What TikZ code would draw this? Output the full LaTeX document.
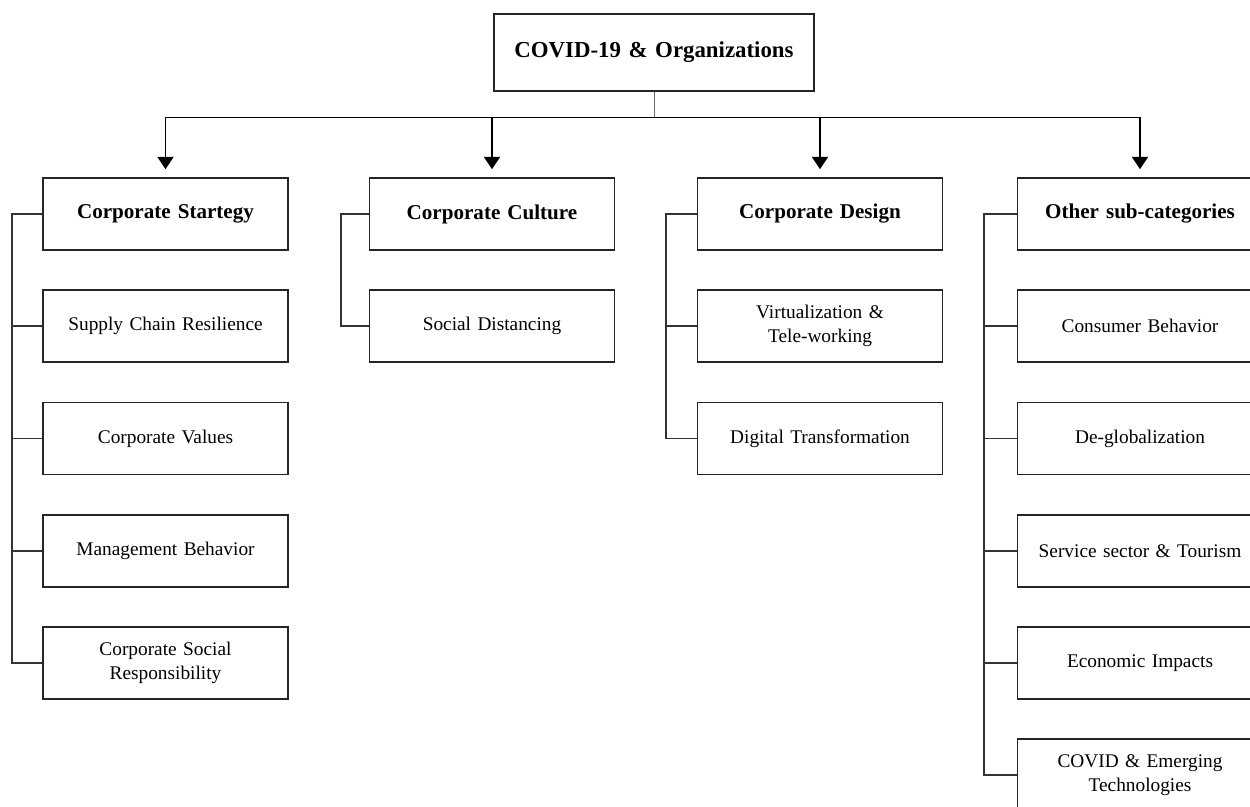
\documentclass[tikz,border=0pt]{standalone}
\usepackage{fontspec}
\setmainfont{Liberation Serif}
\usetikzlibrary{arrows.meta, positioning}

\begin{document}
\begin{tikzpicture}[
    x=0.02cm, y=-0.02cm,
    node distance=0.77cm,
    box/.style={rectangle, draw=black!85, line width=1pt, minimum width=4.9cm, minimum height=1.44cm, text width=4.6cm, align=center, inner sep=2pt, font=\fontsize{11}{13.5}\selectfont},
    head/.style={box, font=\fontsize{12}{14}\selectfont\bfseries},
    arrow/.style={line width=1.1pt, -{Triangle[length=7pt,width=9pt]}, shorten >=4.5pt},
    link/.style={draw=black!80, line width=1pt}
]
\useasboundingbox (0,0) rectangle (1250,807);
\clip (0,0) rectangle (1250,807);

% Root
\node[box, minimum width=6.4cm, minimum height=1.54cm, text width=6.2cm, font=\fontsize{13}{15}\selectfont\bfseries] (root) at (654,52.5) {COVID-19 \& Organizations};

% Headers
\node[head] (strat) at (165.5,214) {Corporate Startegy};
\node[head] (cult) at (492,214) {Corporate Culture};
\node[head] (design) at (820,214) {Corporate Design};
\node[head] (other) at (1140,214) {Other sub-categories};

% Corporate strategy
\node[box, below=of strat] (strat1) {Supply Chain Resilience};
\node[box, below=of strat1] (strat2) {Corporate Values};
\node[box, below=of strat2] (strat3) {Management Behavior};
\node[box, below=of strat3] (strat4) {Corporate Social\\Responsibility};

% Corporate culture
\node[box, below=of cult] (cult1) {Social Distancing};

% Corporate design
\node[box, below=of design] (design1) {Virtualization \&\\Tele-working};
\node[box, below=of design1] (design2) {Digital Transformation};

% Other sub-categories
\node[box, below=of other] (other1) {Consumer Behavior};
\node[box, below=of other1] (other2) {De-globalization};
\node[box, below=of other2] (other3) {Service sector \& Tourism};
\node[box, below=of other3] (other4) {Economic Impacts};
\node[box, below=of other4] (other5) {COVID \& Emerging\\Technologies};

% Top arrows
\coordinate (bus) at (654,117.5);
\draw[draw=black!60, line width=0.5pt] (root.south) -- (bus);
\draw[line width=1pt] (strat.north |- bus) -- (other.north |- bus);
\foreach \h in {strat, cult, design, other}
    \draw[arrow] (\h.north |- bus) -- (\h.north);

% Brackets
\draw[link] (strat.west) -- ++(-30,0) |- (strat4.west);
\foreach \c in {strat1, strat2, strat3}
    \draw[link] (\c.west) -- ++(-30,0);
\draw[link] (cult.west) -- ++(-28,0) |- (cult1.west);
\draw[link] (design.west) -- ++(-31,0) |- (design2.west);
\draw[link] (design1.west) -- ++(-31,0);
\draw[link] (other.west) -- ++(-33,0) |- (other5.west);
\foreach \c in {other1, other2, other3, other4}
    \draw[link] (\c.west) -- ++(-33,0);

\end{tikzpicture}
\end{document}
